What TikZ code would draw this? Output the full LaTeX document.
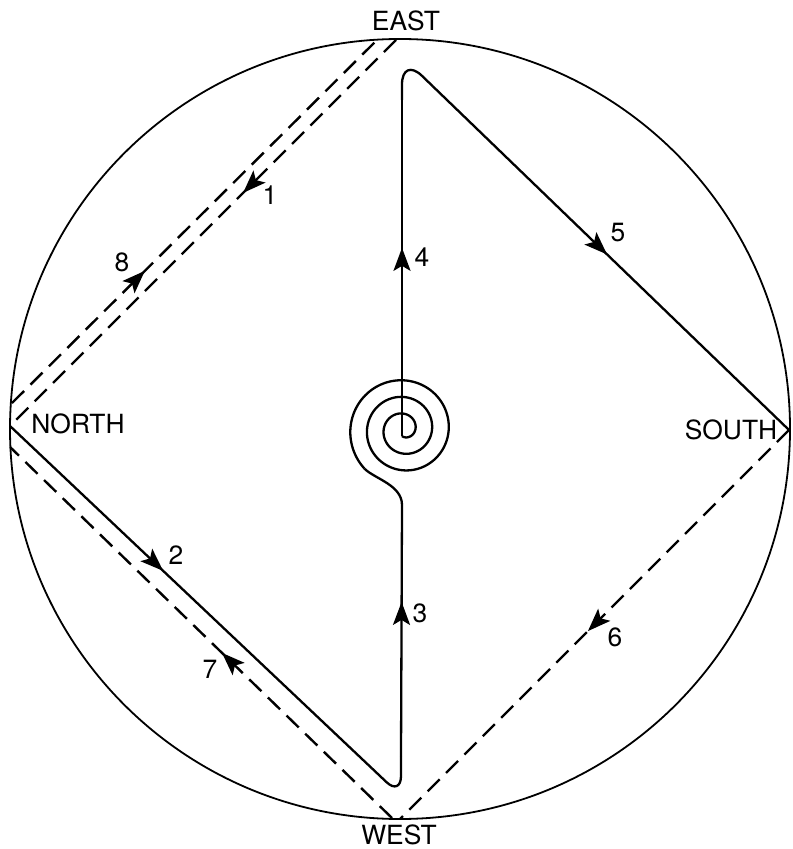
\documentclass[tikz,border=0pt]{standalone}
\usepackage{fontspec}
\setmainfont{TeX Gyre Heros}
\usetikzlibrary{arrows.meta,decorations.markings}
\begin{document}
\begin{tikzpicture}[x=0.5pt,y=-0.5pt,
  solidline/.style={line width=1.15pt},
  dline/.style={line width=1.2pt, dash pattern=on 8.5pt off 4.5pt},
  arrowat/.style={postaction={decorate},decoration={markings,mark=at position #1 with {\arrow{Stealth[length=11.5pt,width=8.5pt,inset=2.5pt]}}}},
  lbl/.style={inner sep=0pt, font=\fontsize{13.2}{15}\selectfont}]
\useasboundingbox (0,0) rectangle (792,849);
% key points
\coordinate (O) at (400,429);
\coordinate (E1) at (396,40);
\coordinate (N) at (10,426);
\coordinate (P8) at (12,403);
\coordinate (E8) at (377,40);
\coordinate (N7) at (10,447);
\coordinate (W7) at (392,818);
\coordinate (S) at (789,430);
\coordinate (W) at (400,819);
\coordinate (A2) at (372,768.4);
\coordinate (V2) at (401,795.9);
\coordinate (B2) at (401,756);
\coordinate (T3) at (402,505);
\coordinate (SP1) at (364.5,468.7);
\coordinate (C0) at (402,436);
\coordinate (B4) at (402,100);
\coordinate (V4) at (402,56.5);
\coordinate (A5) at (432.9,86.4);
% circle
\draw[line width=0.9pt] (O) circle[radius=195pt];
% dashed routes
\draw[dline,arrowat=0.396] (E1) -- (N);
\draw[dline,arrowat=0.364] (P8) -- (E8);
\draw[dline,arrowat=0.445] (W7) -- (N7);
\draw[dline,arrowat=0.517] (S) -- (W);
% solid route
\draw[solidline,arrowat=0.423] (N) -- (A2);
\draw[solidline,rounded corners=10pt] (A2) -- (V2) -- (B2);
\draw[solidline,arrowat=0.614] (B2) -- (T3);
\draw[solidline] (T3) .. controls (402,485) and (374.5,478.7) .. (SP1);
\draw[solidline] plot[domain=-105:945,samples=400,smooth,variable=\t]
  ({403.7+(11.67+0.046306*\t)*cos(\t)},{429.5-(11.67+0.046306*\t)*sin(\t)});
\draw[solidline,arrowat=0.56] (C0) -- (B4);
\draw[solidline,rounded corners=14pt] (B4) -- (V4) -- (A5);
\draw[solidline,arrowat=0.489] (A5) -- (S);
% labels
\node[lbl] (east) at (406,21) {EAST};
\node[lbl] (north) at (78,424) {NORTH};
\node[lbl] (south) at (731,430) {SOUTH};
\node[lbl] (west) at (399,835) {WEST};
\node[lbl] (l1) at (270,195) {1};
\node[lbl] (l2) at (176,555) {2};
\node[lbl] (l3) at (420,613) {3};
\node[lbl] (l4) at (422,257) {4};
\node[lbl] (l5) at (618,233) {5};
\node[lbl] (l6) at (615,637) {6};
\node[lbl] (l7) at (210,669) {7};
\node[lbl] (l8) at (122,262) {8};
\end{tikzpicture}
\end{document}
